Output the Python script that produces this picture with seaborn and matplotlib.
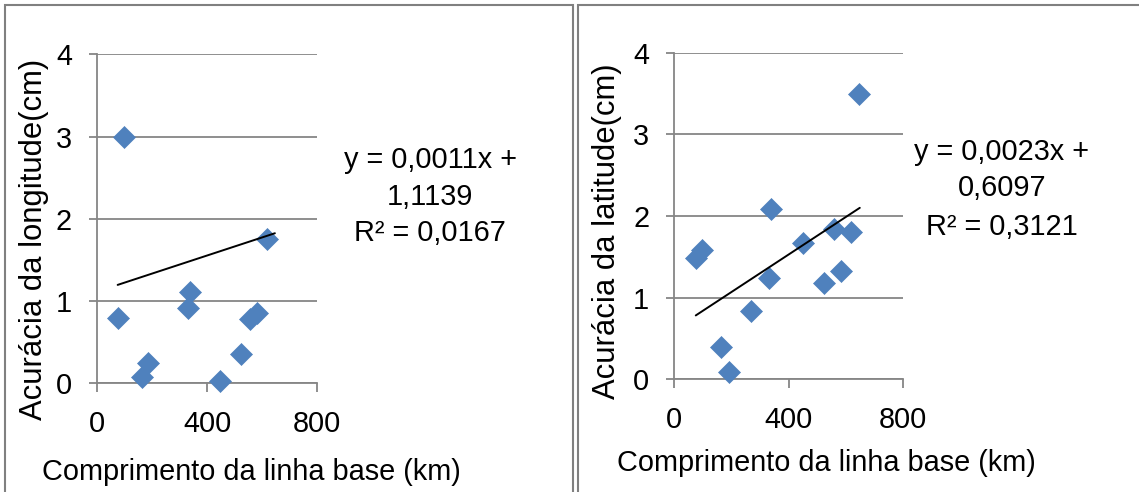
import numpy as np
import pandas as pd
import matplotlib
matplotlib.use("Agg")
import matplotlib.pyplot as plt
from matplotlib.patches import Rectangle
import seaborn as sns

# Baseline length (km) and positional accuracy (cm)
baseline_lon = [75, 99, 163, 187, 330, 338, 447, 522, 556, 582, 616]
accuracy_lon = [0.80, 3.00, 0.08, 0.25, 0.92, 1.11, 0.03, 0.36, 0.78, 0.86, 1.76]

baseline_lat = [75, 98, 163, 190, 267, 331, 338, 448, 523, 557, 583, 618, 644]
accuracy_lat = [1.48, 1.58, 0.40, 0.09, 0.84, 1.24, 2.09, 1.67, 1.18, 1.84, 1.33, 1.80, 3.49]

# Linear trend lines: slope, intercept, R², fitted baseline range
trend_lon = dict(slope=0.0011, intercept=1.1139, r2=0.0167, x_range=[75, 646])
trend_lat = dict(slope=0.0023, intercept=0.6097, r2=0.3121, x_range=[75, 648])

x_ticks = [0, 400, 800]
y_ticks = [0, 1, 2, 3, 4]
x_label = "Comprimento da linha base (km)"
y_label_lon = "Acurácia da longitude(cm)"
y_label_lat = "Acurácia da latitude(cm)"

sns.set_theme(style="white")
plt.rcParams["font.family"] = ["Liberation Sans", "DejaVu Sans"]
plt.rcParams["text.color"] = "black"
plt.rcParams["axes.labelcolor"] = "black"

W, H = 1139, 492
fig = plt.figure(figsize=(W / 100, H / 100), dpi=100)
fig.patch.set_facecolor("white")

GRAY = "#868686"
BLUE = "#4F81BD"
FS = 20.8       # horizontal text
FS_V = 22.3     # rotated axis titles


def px_axes(x0, y_top, x1, y_bot):
    return [x0 / W, 1 - y_bot / H, (x1 - x0) / W, (y_bot - y_top) / H]


def comma(v, nd):
    return f"{v:.{nd}f}".replace(".", ",")


def panel(rect, xs, ys, trend, ylabel, ylab_pos, xlab_pos, eq_x, eq_ys):
    ax = fig.add_axes(rect)
    df = pd.DataFrame({"x": xs, "y": ys})
    sns.scatterplot(data=df, x="x", y="y", marker="D", s=125, color=BLUE,
                    edgecolor=BLUE, linewidth=0.5, ax=ax, zorder=3, clip_on=False)
    tx = np.array(trend["x_range"], dtype=float)
    ty = trend["slope"] * tx + trend["intercept"]
    sns.lineplot(x=tx, y=ty, color="black", linewidth=1.4, ax=ax, zorder=4)

    ax.set_xlim(0, 800)
    ax.set_ylim(0, 4)
    ax.set_xticks(x_ticks)
    ax.set_yticks(y_ticks)
    ax.set_xticklabels([str(t) for t in x_ticks])
    ax.set_yticklabels([str(t) for t in y_ticks])
    ax.tick_params(axis="y", direction="out", length=6, width=1.3, color=GRAY,
                   labelcolor="black", labelsize=FS, pad=12, left=True)
    ax.tick_params(axis="x", direction="out", length=6.5, width=1.3, color=GRAY,
                   labelcolor="black", labelsize=FS, pad=13, bottom=True)
    ax.grid(axis="y", color=GRAY, linewidth=1.3)
    ax.grid(axis="x", visible=False)
    ax.set_axisbelow(True)
    for side in ("top", "right"):
        ax.spines[side].set_visible(False)
    for side in ("left", "bottom"):
        ax.spines[side].set_color(GRAY)
        ax.spines[side].set_linewidth(1.3)

    ax.set_ylabel(ylabel, fontsize=FS_V, va="center", color="black")
    ax.yaxis.set_label_coords(*ylab_pos)
    ax.set_xlabel(x_label, fontsize=FS, va="center", color="black")
    ax.xaxis.set_label_coords(*xlab_pos)

    lines = [f"y = {comma(trend['slope'], 4)}x +",
             comma(trend["intercept"], 4),
             f"R² = {comma(trend['r2'], 4)}"]
    for txt, yy in zip(lines, eq_ys):
        fig.text(eq_x / W, 1 - yy / H, txt, fontsize=FS, ha="center", va="center",
                 color="black")
    return ax


panel(px_axes(97, 54.3, 317.3, 383.3), baseline_lon, accuracy_lon, trend_lon,
      y_label_lon, (-0.288, 0.4386), (0.699, -0.2687), 430, [160, 197, 233])
panel(px_axes(674.3, 52.7, 903.3, 379.3), baseline_lat, accuracy_lat, trend_lat,
      y_label_lat, (-0.292, 0.4547), (0.6655, -0.2563), 1001.7, [151.7, 188.5, 226.7])

# Frames around the two chart boxes
frame_kw = dict(fill=False, edgecolor="#808080", linewidth=1.5,
                transform=fig.transFigure, clip_on=False)
fig.add_artist(Rectangle((4.5 / W, -0.1), (572.5 - 4.5) / W, 1.1 - 4.5 / H, **frame_kw))
fig.add_artist(Rectangle((577.5 / W, -0.1), 0.6, 1.1 - 4.5 / H, **frame_kw))

fig.savefig("out.png", dpi=100)
